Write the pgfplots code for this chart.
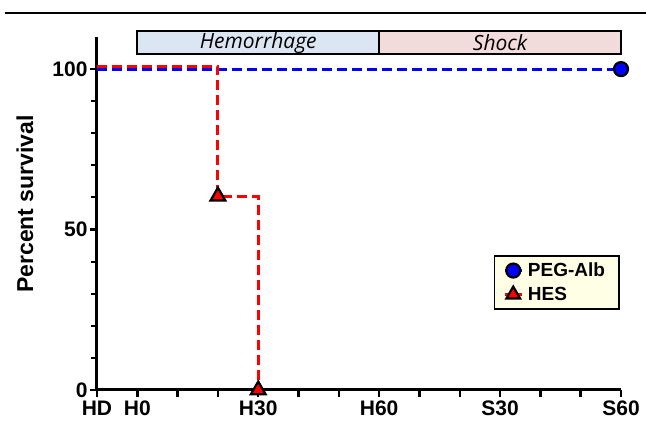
\documentclass[border=0pt]{standalone}
\usepackage{pgfplots}
\pgfplotsset{compat=1.18}
\usepackage{fontspec}
\setmainfont{Liberation Sans}
\newfontfamily\boxfont{Open Sans}
\definecolor{hemfill}{HTML}{DCE6F2}
\definecolor{shockfill}{HTML}{F2DCDB}
\definecolor{legfill}{HTML}{FFFFE6}
\begin{document}
\begin{tikzpicture}[x=1pt,y=1pt]
\useasboundingbox (-97,-35) rectangle (549,390);
\draw[line width=1.5pt] (-92,377) -- (549,377);
\begin{axis}[
  at={(0,0)}, anchor=south west,
  scale only axis, width=524pt, height=353pt,
  xmin=0, xmax=13, ymin=0, ymax=110,
  axis lines=left, axis line style={line width=3pt, -},
  clip=false,
  xtick={0,...,13},
  xticklabels={HD,H0,,,H30,,,H60,,,S30,,,S60},
  ytick={0,50,100},
  minor ytick={10,20,30,40,60,70,80,90},
  tick align=outside,
  major tick length=7pt, minor tick length=6pt,
  tick style={line width=2.4pt, black},
  minor tick style={line width=2pt, black},
  /pgf/number format/assume math mode=true,
  tick label style={font=\fontsize{21}{23}\selectfont\bfseries},
  xticklabel style={yshift=-3pt, inner sep=1pt},
  yticklabel style={xshift=1pt},
  ylabel={Percent survival},
  ylabel style={at={(axis description cs:0,0.527)}, anchor=center, yshift=72pt, font=\fontsize{23}{25}\selectfont\bfseries},
  legend style={at={(0.998,0.227)}, anchor=south east, fill=legfill, draw=black, line width=1.8pt,
    font=\fontsize{19}{21}\selectfont\bfseries, row sep=5pt, inner xsep=9pt, inner ysep=5pt,
    nodes={inner xsep=5pt}},
  legend cell align=left,
]
\addlegendimage{blue, line width=2.4pt, mark=*, mark size=7pt, mark options={fill=blue, draw=black, line width=2.2pt}}
\addlegendentry{PEG-Alb}
\addlegendimage{red, line width=2.4pt, mark=triangle*, mark size=8pt, mark options={fill=red, draw=black, line width=2.2pt}}
\addlegendentry{HES}
\addplot[forget plot, blue, line width=3pt, dash pattern=on 10pt off 5pt]
  coordinates {(0,100) (13,100)};
\addplot[forget plot, red, line width=3pt, dash pattern=on 10pt off 5pt]
  coordinates {(0,100.9) (3,100.9) (3,60.4) (4,60.4) (4,0)};
\addplot[forget plot, only marks, mark=*, mark size=7pt, mark options={fill=blue, draw=black, line width=2.2pt}]
  coordinates {(13,100)};
\addplot[forget plot, only marks, mark=triangle*, mark size=8.5pt, mark options={fill=red, draw=black, line width=2.2pt}]
  coordinates {(3,60.4) (4,0)};
\draw[line width=2.2pt, fill=hemfill] (axis cs:1,104.7) rectangle (axis cs:7,111.8);
\draw[line width=2.2pt, fill=shockfill] (axis cs:7,104.7) rectangle (axis cs:13,111.8);
\node[font=\fontsize{21}{23}\selectfont\boxfont\itshape] at (axis cs:4,108.1) {Hemorrhage};
\node[font=\fontsize{21}{23}\selectfont\boxfont\itshape] at (axis cs:10,108.1) {Shock};
\end{axis}
\end{tikzpicture}
\end{document}
